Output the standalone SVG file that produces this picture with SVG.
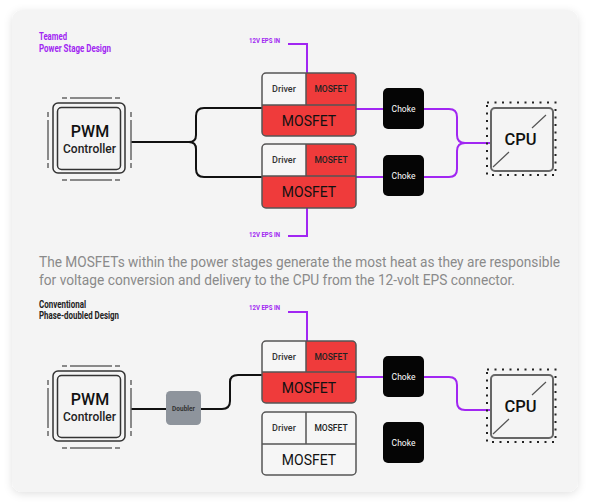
<svg xmlns="http://www.w3.org/2000/svg" width="590" height="502" viewBox="0 0 590 502">
<defs>
<filter id="sh" x="-10%" y="-10%" width="120%" height="120%">
<feDropShadow dx="0" dy="2" stdDeviation="4" flood-color="#000" flood-opacity="0.12"/>
</filter>
<style>
text{font-family:Roboto,"Liberation Sans",sans-serif}
.ttl{font-size:10px;font-weight:700;fill:#a126f2}
.ttlk{font-size:10px;font-weight:700;fill:#222}
.eps{font-size:6.5px;font-weight:700;fill:#a126f2}
.para{font-size:14px;fill:#8a8a8a}
.pw{stroke:#a126f2;stroke-width:2;fill:none}
.bk{stroke:#111;stroke-width:2;fill:none}
.frame{fill:none;stroke:#555;stroke-width:1.5}
.div{stroke:#555;stroke-width:1.5}
.red{fill:#ef3b3b}
.lt{fill:#f6f6f6}
.drv{font-size:9px;font-weight:500;fill:#333;text-anchor:middle}
.ms{font-size:8.5px;font-weight:500;fill:#222;text-anchor:middle}
.mb{font-size:14px;fill:#111;text-anchor:middle}
.ch{fill:#050505}
.cht{font-size:8.5px;fill:#fff;text-anchor:middle}
.pwmo{fill:none;stroke:#333;stroke-width:1.5}
.dash{stroke:#666;stroke-width:1.5}
.pwm1{font-size:16px;font-weight:500;fill:#111;text-anchor:middle}
.pwm2{font-size:12px;font-weight:500;fill:#222;text-anchor:middle}
.cpuin{fill:none;stroke:#666;stroke-width:2}
.dots{fill:none;stroke:#222;stroke-width:2;stroke-dasharray:2 5.5}
.diag{stroke:#555;stroke-width:1.2}
.cput{font-size:16.5px;font-weight:500;fill:#111;text-anchor:middle}
</style>
</defs>
<rect x="12" y="10" width="566" height="482" rx="10" fill="#f4f4f4" filter="url(#sh)"/>

<text class="ttl" x="39" y="40" textLength="28" lengthAdjust="spacingAndGlyphs">Teamed</text>
<text class="ttl" x="39" y="52" textLength="72" lengthAdjust="spacingAndGlyphs">Power Stage Design</text>

<text class="para" x="39" y="267" textLength="521" lengthAdjust="spacingAndGlyphs">The MOSFETs within the power stages generate the most heat as they are responsible</text>
<text class="para" x="39" y="285" textLength="476" lengthAdjust="spacingAndGlyphs">for voltage conversion and delivery to the CPU from the 12-volt EPS connector.</text>

<text class="ttlk" x="39" y="307.5" textLength="47" lengthAdjust="spacingAndGlyphs">Conventional</text>
<text class="ttlk" x="39" y="319" textLength="80" lengthAdjust="spacingAndGlyphs">Phase-doubled Design</text>

<g id="connectors">
<path class="pw" d="M288,44 H307 V73"/>
<path class="pw" d="M288,236 H307 V208"/>
<path class="pw" d="M288,312 H307 V341"/>
<path class="bk" d="M131,142 H189 Q196,142 196,135 V116 Q196,108 204,108 H262"/>
<path class="bk" d="M189,142 Q196,142 196,149 V169 Q196,177 204,177 H262"/>
<path class="pw" d="M356,109 H383"/>
<path class="pw" d="M356,177 H383"/>
<path class="pw" d="M424,109 H449 Q457,109 457,117 V135 Q457,143 465,143 H491"/>
<path class="pw" d="M424,177 H449 Q457,177 457,169 V151 Q457,143 465,143"/>
<path class="bk" d="M131,409 H166"/>
<path class="bk" d="M201,409 H222 Q230,409 230,401 V382 Q230,375 238,375 H262"/>
<path class="pw" d="M356,377 H383"/>
<path class="pw" d="M424,377 H449 Q457,377 457,385 V402 Q457,410 465,410 H491"/>
</g>

<g id="eps-labels">
<text class="eps" x="280" y="43" text-anchor="end" textLength="31" lengthAdjust="spacingAndGlyphs">12V EPS IN</text>
<text class="eps" x="280" y="237" text-anchor="end" textLength="31" lengthAdjust="spacingAndGlyphs">12V EPS IN</text>
<text class="eps" x="280" y="310" text-anchor="end" textLength="31" lengthAdjust="spacingAndGlyphs">12V EPS IN</text>
</g>

<g id="pwm-top">
<rect class="pwmo" x="53" y="103" width="72" height="70" rx="5"/>
<rect class="pwmo" x="57.5" y="107.5" width="63" height="62" rx="4"/>
<path class="dash" d="M62,98 H67 M70,98 H112 M115,98 H120 M62,180 H67 M70,180 H112 M115,180 H120 M48,112 V117 M48,120 V160 M48,163 V168 M131,112 V117 M131,120 V160 M131,163 V168"/>
<text class="pwm1" x="90" y="137">PWM</text>
<text class="pwm2" x="89.5" y="153">Controller</text>
</g>

<g id="stage-1">
<rect class="red" x="262" y="73" width="94" height="63" rx="4"/>
<path class="lt" d="M262,77 A4,4 0 0 1 266,73 H306 V105 H262 Z"/>
<path class="div" d="M262,105 H356 M306,73 V105"/>
<rect class="frame" x="262" y="73" width="94" height="63" rx="4"/>
<text class="drv" x="284" y="92">Driver</text>
<text class="ms" x="331" y="92">MOSFET</text>
<text class="mb" x="309" y="125.5">MOSFET</text>
</g>

<g id="stage-2">
<rect class="red" x="262" y="144" width="94" height="64" rx="4"/>
<path class="lt" d="M262,148 A4,4 0 0 1 266,144 H306 V176 H262 Z"/>
<path class="div" d="M262,176 H356 M306,144 V176"/>
<rect class="frame" x="262" y="144" width="94" height="64" rx="4"/>
<text class="drv" x="284" y="163">Driver</text>
<text class="ms" x="331" y="163">MOSFET</text>
<text class="mb" x="309" y="197">MOSFET</text>
</g>

<g id="choke-1">
<rect class="ch" x="383" y="88" width="41" height="41" rx="5"/>
<text class="cht" x="403.5" y="111.5">Choke</text>
</g>
<g id="choke-2">
<rect class="ch" x="383" y="155" width="41" height="41" rx="5"/>
<text class="cht" x="403.5" y="178.5">Choke</text>
</g>

<g id="cpu-top">
<rect class="dots" x="487" y="102.5" width="68.5" height="72.5"/>
<rect class="cpuin" x="491" y="108" width="62" height="63" rx="4"/>
<path class="diag" d="M532,128 L546,115 M493,167 L509,152"/>
<text class="cput" x="520.5" y="144.5">CPU</text>
</g>

<g id="pwm-bottom" transform="translate(0,268)">
<rect class="pwmo" x="53" y="103" width="72" height="70" rx="5"/>
<rect class="pwmo" x="57.5" y="107.5" width="63" height="62" rx="4"/>
<path class="dash" d="M62,98 H67 M70,98 H112 M115,98 H120 M62,180 H67 M70,180 H112 M115,180 H120 M48,112 V117 M48,120 V160 M48,163 V168 M131,112 V117 M131,120 V160 M131,163 V168"/>
<text class="pwm1" x="90" y="137">PWM</text>
<text class="pwm2" x="89.5" y="153">Controller</text>
</g>

<g id="doubler">
<rect x="166" y="391" width="35" height="34" rx="4.5" fill="#8e949c"/>
<text x="183.5" y="411" font-size="6.5" font-weight="700" fill="#333" text-anchor="middle">Doubler</text>
</g>

<g id="stage-3">
<rect class="red" x="262" y="341" width="94" height="62" rx="4"/>
<path class="lt" d="M262,345 A4,4 0 0 1 266,341 H306 V372 H262 Z"/>
<path class="div" d="M262,372 H356 M306,341 V372"/>
<rect class="frame" x="262" y="341" width="94" height="62" rx="4"/>
<text class="drv" x="284" y="359.5">Driver</text>
<text class="ms" x="331" y="359.5">MOSFET</text>
<text class="mb" x="309" y="392.5">MOSFET</text>
</g>

<g id="stage-4">
<rect class="lt" x="262" y="412" width="94" height="63" rx="4"/>
<path class="div" d="M262,444 H356 M306,412 V444"/>
<rect class="frame" x="262" y="412" width="94" height="63" rx="4"/>
<text class="drv" x="284" y="431">Driver</text>
<text class="ms" x="331" y="431">MOSFET</text>
<text class="mb" x="309" y="464.5">MOSFET</text>
</g>

<g id="choke-3">
<rect class="ch" x="383" y="356" width="41" height="41" rx="5"/>
<text class="cht" x="403.5" y="379.5">Choke</text>
</g>
<g id="choke-4">
<rect class="ch" x="383" y="422" width="41" height="41" rx="5"/>
<text class="cht" x="403.5" y="445.5">Choke</text>
</g>

<g id="cpu-bottom" transform="translate(0,267)">
<rect class="dots" x="487" y="102.5" width="68.5" height="72.5"/>
<rect class="cpuin" x="491" y="108" width="62" height="63" rx="4"/>
<path class="diag" d="M532,128 L546,115 M493,167 L509,152"/>
<text class="cput" x="520.5" y="144.5">CPU</text>
</g>
</svg>
